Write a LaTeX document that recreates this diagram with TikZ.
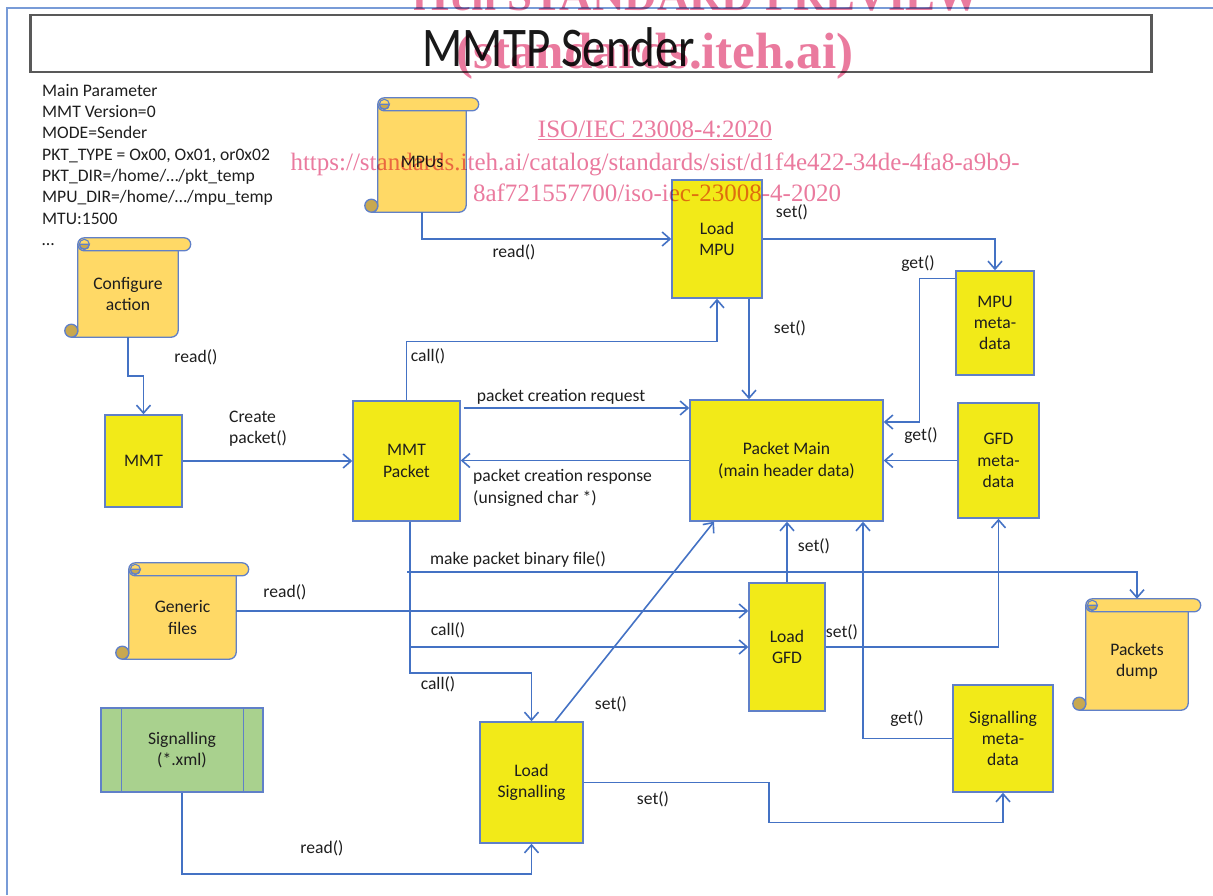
\documentclass[tikz,border=0pt]{standalone}
\usepackage{fontspec}
\setmainfont{Carlito}
\newfontfamily\wmfont{Liberation Serif}
\usetikzlibrary{arrows.meta,calc,backgrounds}

\definecolor{lineblue}{RGB}{68,114,196}
\definecolor{boxblue}{RGB}{96,128,200}
\definecolor{frameblue}{RGB}{120,155,215}
\definecolor{boxyellow}{RGB}{242,234,24}
\definecolor{scrollgold}{RGB}{255,217,102}
\definecolor{curlgold}{RGB}{200,168,80}
\definecolor{xmlgreen}{RGB}{169,209,142}
\definecolor{ink}{RGB}{30,30,30}
\definecolor{wmpink}{RGB}{234,122,158}

\newcommand\bodyfont{\fontsize{17.6}{21.3}\selectfont}

\tikzset{
  conn/.style={draw=lineblue, line width=1.6pt, -{Straight Barb[length=8pt,width=14pt]}},
  frameline/.style={draw=frameblue, line width=1.5pt},
  procbox/.style={draw=boxblue, line width=1.4pt, fill=boxyellow, align=center,
    inner sep=0pt, font=\bodyfont, text=ink},
  xmlbox/.style={procbox, fill=xmlgreen},
  scrolltext/.style={align=center, inner sep=0pt, font=\bodyfont, text=ink},
  scrollline/.style={draw=boxblue, line width=1.3pt, fill=scrollgold},
  curlline/.style={draw=boxblue, line width=1.3pt, fill=curlgold},
  lbl/.style={inner sep=0pt, font=\bodyfont, text=ink},
  titlebox/.style={draw=black!65, line width=2.4pt, inner sep=0pt},
  titletext/.style={inner sep=0pt, font=\fontsize{56}{60}\selectfont, text=black!90},
  wm/.style={inner sep=0pt, text=wmpink}
}

% vertical scroll drawn around a body node (the roll sits above its north edge)
\newcommand\scrollshape[1]{%
  \draw[scrollline] let \p1=(#1.north west), \p2=(#1.south east) in
    (\x1,\y1+6.5pt) -- (\x1,\y2+6.5pt)
    arc[start angle=0,end angle=-90,radius=6.5pt]
    -- (\x2-7pt,\y2) arc[start angle=-90,end angle=0,radius=7pt]
    -- (\x2,\y1+6.5pt) -- cycle;
  \draw[curlline] let \p1=(#1.north west), \p2=(#1.south east) in
    (\x1-6.5pt,\y2+6.5pt) circle[radius=6.5pt];
  \draw[scrollline] let \p1=(#1.north west), \p2=(#1.south east) in
    (\x1+6.5pt,\y1+13pt) -- (\x2+6pt,\y1+13pt)
    arc[start angle=90,end angle=-90,radius=6.5pt]
    -- (\x1+6.5pt,\y1) arc[start angle=270,end angle=90,radius=6.5pt] -- cycle;
  \draw[curlline] let \p1=(#1.north west) in
    (\x1+1.5pt,\y1+6.5pt) arc[start angle=180,end angle=360,radius=5pt] -- cycle;
  \draw[draw=boxblue, line width=1.1pt] let \p1=(#1.north west) in
    (\x1+6.5pt,\y1+6.5pt) circle[radius=5pt];
}

\begin{document}
\begin{tikzpicture}[x=1pt,y=-1pt]
\useasboundingbox (0,0) rectangle (1213,895);

% page frame
\draw[frameline] (7,895) -- (7,8) -- (1213,8);

% title bar
\node[titlebox, minimum width=1121, minimum height=57] (titlebox) at (591,43.5) {};
\node[titletext] (title) at (559,47) {\scalebox{0.84}[1]{MMTP Sender}};

% configuration parameters
\node[lbl, align=left, anchor=north west] (params) at (42,84)
  {Main Parameter\\MMT Version=0\\MODE=Sender\\PKT\_TYPE = Ox00, Ox01, or0x02\\
   PKT\_DIR=/home/…/pkt\_temp\\MPU\_DIR=/home/…/mpu\_temp\\MTU:1500\\…};

% scroll-shaped data sources and sinks
\node[scrolltext, minimum width=100, minimum height=86] (conf) at (128,294) {Configure\\action};
\node[scrolltext, minimum width=88, minimum height=101] (mpus) at (422,161.5) {MPUs};
\node[scrolltext, minimum width=107, minimum height=83] (gen) at (182.5,617.5) {Generic\\files};
\node[scrolltext, minimum width=102, minimum height=98] (dump) at (1137,661) {Packets\\dump};
\begin{scope}[on background layer]
  \scrollshape{conf}
  \scrollshape{mpus}
  \scrollshape{gen}
  \scrollshape{dump}
\end{scope}

% processing blocks
\node[procbox, minimum width=90, minimum height=118] (lmpu) at (717,239) {Load\\MPU};
\node[procbox, minimum width=78, minimum height=104] (mpumeta) at (995,323) {MPU\\meta-\\data};
\node[procbox, minimum width=193, minimum height=121] (pmain) at (786.5,460.5) {Packet Main\\(main header data)};
\node[procbox, minimum width=81, minimum height=115] (gfdmeta) at (998.5,460.5) {GFD\\meta-\\data};
\node[procbox, minimum width=107, minimum height=120] (mmtp) at (406.5,461) {MMT\\Packet};
\node[procbox, minimum width=77, minimum height=92] (mmt) at (143.5,461) {MMT};
\node[procbox, minimum width=76, minimum height=128] (lgfd) at (787,647) {Load\\GFD};
\node[procbox, minimum width=100, minimum height=107] (sigmeta) at (1003,738.5) {Signalling\\meta-\\data};
\node[procbox, minimum width=103, minimum height=121] (lsig) at (531.5,782.5) {Load\\Signalling};
\node[xmlbox, minimum width=162, minimum height=84] (sigxml) at (182,750) {Signalling\\(*.xml)};
\draw[draw=boxblue, line width=1.4pt] ([xshift=21pt]sigxml.north west) -- ([xshift=21pt]sigxml.south west);
\draw[draw=boxblue, line width=1.4pt] ([xshift=-20pt]sigxml.north east) -- ([xshift=-20pt]sigxml.south east);

% branch points on the MMT Packet output line
\coordinate (mkbin) at (407,572);
\coordinate (callgfd) at (410,647);

% connectors
\draw[conn] (mpus.south) |- (lmpu.west);
\draw[conn] (lmpu.east) -| (mpumeta.north);
\draw[conn] ([yshift=-8pt]mpumeta.north west) -- ++(-36,0) |- ([yshift=38.5pt]pmain.east);
\draw[conn] ([xshift=32pt]lmpu.south) -- ([xshift=32pt]lmpu.south |- pmain.north);
\draw[conn] (mmtp.north) -- ++(0,-59) -| (lmpu.south);
\draw[conn] (conf.south) -- ++(0,39) -| (mmt.north);
\draw[conn] (mmt.east) -- (mmtp.west);
\draw[conn] ([xshift=3pt,yshift=53pt]mmtp.east) -- ([yshift=53pt]mmtp.east -| pmain.west);
\draw[conn] (pmain.west) -- (pmain.west -| mmtp.east);
\draw[conn] (gfdmeta.west) -- (pmain.east);
\draw[conn] ([xshift=3.5pt]mmtp.south) -- ++(0,151) -| (lsig.north);
\draw[conn] (mkbin) -| ([yshift=13pt]dump.north);
\draw[conn] (callgfd) -- (callgfd -| lgfd.west);
\draw[conn] ([yshift=6.5pt]gen.east) -- ([yshift=6.5pt]gen.east -| lgfd.west);
\draw[conn] (lgfd.north) -- (lgfd.north |- pmain.south);
\draw[conn] (lgfd.east) -| (gfdmeta.south);
\draw[conn] (sigmeta.west) -| ([xshift=76.5pt]pmain.south);
\draw[conn] (lsig.east) -- ++(185,0) -- ++(0,40) -| (sigmeta.south);
\draw[conn] ([xshift=23.5pt]lsig.north) -- ([xshift=-72.5pt]pmain.south);
\draw[conn] (sigxml.south) -- ++(0,81) -| (lsig.south);

% connector labels
\node[lbl] (t1) at (514,252) {read()};
\node[lbl] (t2) at (792,212) {set()};
\node[lbl] (t3) at (918,264) {get()};
\node[lbl] (t4) at (790,328) {set()};
\node[lbl] (t5) at (428,356) {call()};
\node[lbl] (t6) at (196,357) {read()};
\node[lbl, align=left, anchor=west] (t7) at (229,429) {Create\\packet()};
\node[lbl] (t8) at (561,397) {packet creation request};
\node[lbl, align=left, anchor=west] (t9) at (473,488) {packet creation response\\(unsigned char *)};
\node[lbl] (t10) at (921,436) {get()};
\node[lbl] (t11) at (518,559) {make packet binary file()};
\node[lbl] (t12) at (814,546) {set()};
\node[lbl] (t13) at (285,592) {read()};
\node[lbl] (t14) at (448,630) {call()};
\node[lbl] (t15) at (842,632) {set()};
\node[lbl] (t16) at (438,684) {call()};
\node[lbl] (t17) at (611,704) {set()};
\node[lbl] (t18) at (907,719) {get()};
\node[lbl] (t19) at (653,799) {set()};
\node[lbl] (t20) at (322,848) {read()};

% preview stamp
\begin{scope}[blend mode=multiply]
  \node[wm, font=\wmfont\bfseries\fontsize{45}{45}\selectfont, anchor=base] (wm1) at (697,10) {iTeh STANDARD PREVIEW};
  \node[wm, font=\wmfont\bfseries\fontsize{51}{51}\selectfont, anchor=base] (wm2) at (655,68) {(standards.iteh.ai)};
  \node[wm, font=\wmfont\fontsize{25}{25}\selectfont, anchor=base] (wm3) at (655,137) {\underline{ISO/IEC 23008-4:2020}};
  \node[wm, font=\wmfont\fontsize{25}{25}\selectfont, anchor=base] (wm4) at (655,170) {https://standards.iteh.ai/catalog/standards/sist/d1f4e422-34de-4fa8-a9b9-};
  \node[wm, font=\wmfont\fontsize{25}{25}\selectfont, anchor=base] (wm5) at (657,201) {8af721557700/iso-iec-23008-4-2020};
\end{scope}
\end{tikzpicture}
\end{document}
